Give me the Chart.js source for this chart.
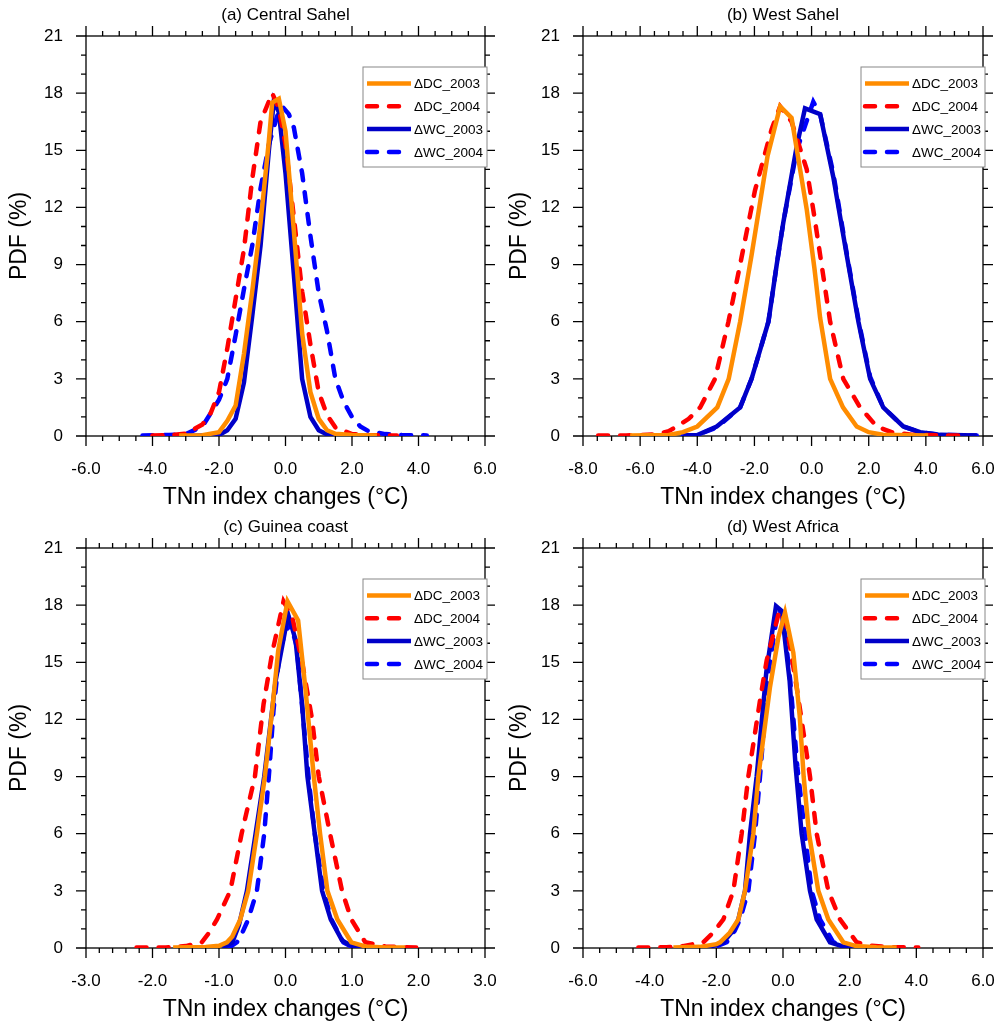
<!DOCTYPE html>
<html>
<head>
<meta charset="utf-8">
<script src="https://cdn.jsdelivr.net/npm/chart.js@4.4.1/dist/chart.umd.min.js"></script>
<style>
  html, body { margin: 0; padding: 0; background: #fff; }
  #wrap { position: relative; width: 1005px; height: 1032px; }
  canvas { position: absolute; }
</style>
</head>
<body>
<div id="wrap">
  <canvas id="pa" width="500" height="512" style="left:0;top:0"></canvas>
  <canvas id="pb" width="505" height="512" style="left:500px;top:0"></canvas>
  <canvas id="pc" width="500" height="520" style="left:0;top:512px"></canvas>
  <canvas id="pd" width="505" height="520" style="left:500px;top:512px"></canvas>
</div>
<script>
// labels
const panelTitles = ['(a) Central Sahel', '(b) West Sahel', '(c) Guinea coast', '(d) West Africa'];
const seriesLabels = ['\u0394DC_2003', '\u0394DC_2004', '\u0394WC_2003', '\u0394WC_2004'];
const xTitle = 'TNn index changes (\u00B0C)';
const yTitle = 'PDF (%)';

// axis ranges [min, max, major step, minor step]
const xAxisA = [-6, 6, 2, 0.5];
const xAxisB = [-8, 6, 2, 0.5];
const xAxisC = [-3, 3, 1, 0.2];
const xAxisD = [-6, 6, 2, 0.5];
const yAxis = [0, 21, 3, 1];

// (a) Central Sahel
const aDc03X = [-3.2, -2.5, -2.0, -1.75, -1.5, -1.25, -1.0, -0.75, -0.5, -0.4, -0.2, 0.0, 0.25, 0.5, 0.75, 1.0, 1.25, 1.5, 2.0, 2.75];
const aDc03Y = [0.02, 0.04, 0.2, 0.8, 1.6, 4.3, 7.6, 11.2, 15.5, 17.5, 17.7, 16.0, 10.8, 5.4, 2.3, 0.9, 0.3, 0.12, 0.05, 0.02];
const aDc04X = [-4.0, -3.5, -3.0, -2.5, -2.25, -2.0, -1.75, -1.5, -1.25, -1.0, -0.75, -0.4, -0.2, 0.0, 0.25, 0.5, 0.75, 1.0, 1.25, 1.5, 2.0, 2.5, 3.35];
const aDc04Y = [0.02, 0.05, 0.12, 0.6, 1.2, 2.3, 4.6, 7.2, 9.8, 13.5, 16.5, 18.0, 17.2, 15.3, 11.5, 7.6, 4.8, 2.3, 1.1, 0.45, 0.1, 0.05, 0.02];
const aWc03X = [-3.0, -2.0, -1.75, -1.5, -1.25, -1.0, -0.75, -0.5, -0.35, -0.2, 0.0, 0.25, 0.5, 0.75, 1.0, 1.25, 1.5, 2.0];
const aWc03Y = [0.0, 0.05, 0.3, 0.9, 2.8, 6.3, 10.0, 15.0, 17.6, 17.0, 13.8, 8.5, 3.0, 1.0, 0.3, 0.08, 0.02, 0.0];
const aWc04X = [-4.3, -3.5, -3.0, -2.5, -2.0, -1.75, -1.5, -1.25, -1.0, -0.75, -0.5, -0.25, -0.1, 0.1, 0.25, 0.5, 0.75, 1.0, 1.25, 1.5, 1.75, 2.0, 2.25, 2.5, 3.0, 3.5, 4.25];
const aWc04Y = [0.03, 0.05, 0.1, 0.5, 1.9, 3.0, 5.3, 7.7, 10.0, 13.0, 15.3, 16.8, 17.3, 16.9, 16.2, 13.8, 10.5, 7.5, 5.5, 3.0, 1.8, 1.0, 0.5, 0.25, 0.1, 0.05, 0.03];

// (b) West Sahel
const bDc03X = [-6.35, -5.0, -4.5, -4.0, -3.3, -2.9, -2.5, -2.1, -1.54, -1.1, -0.7, -0.17, 0.1, 0.3, 0.65, 1.1, 1.58, 2.0, 2.5, 4.08];
const bDc03Y = [0.02, 0.05, 0.2, 0.5, 1.5, 3.0, 6.0, 9.5, 14.7, 17.3, 16.7, 11.9, 8.8, 6.2, 3.0, 1.5, 0.5, 0.2, 0.07, 0.02];
const bDc04X = [-7.47, -6.5, -5.5, -5.0, -4.72, -4.3, -3.9, -3.38, -2.91, -2.5, -1.98, -1.4, -1.1, -0.7, -0.17, 0.1, 0.35, 0.65, 1.11, 1.7, 2.28, 2.8, 3.5, 4.5, 5.37];
const bDc04Y = [0.02, 0.03, 0.08, 0.25, 0.5, 0.9, 1.5, 3.0, 6.0, 9.0, 12.9, 16.1, 17.3, 16.5, 14.0, 11.5, 9.0, 6.0, 3.0, 1.5, 0.5, 0.2, 0.07, 0.03, 0.02];
const bWc03X = [-4.5, -4.0, -3.32, -2.5, -2.1, -1.51, -1.22, -0.99, -0.52, -0.23, 0.3, 0.76, 1.23, 1.64, 2.05, 2.51, 3.21, 3.8, 4.5, 5.78];
const bWc03Y = [0.02, 0.05, 0.5, 1.5, 3.0, 6.0, 9.0, 11.2, 15.2, 17.2, 16.9, 13.6, 9.5, 6.0, 3.0, 1.5, 0.5, 0.2, 0.06, 0.02];
const bWc04X = [-4.5, -4.0, -3.32, -2.5, -2.1, -1.51, -1.22, -0.99, -0.52, 0.06, 0.3, 0.76, 1.23, 1.64, 2.05, 2.51, 3.21, 3.8, 4.5, 5.78];
const bWc04Y = [0.02, 0.05, 0.45, 1.5, 3.0, 6.0, 9.0, 11.2, 15.0, 17.55, 16.9, 13.8, 9.6, 6.1, 3.1, 1.5, 0.5, 0.2, 0.06, 0.02];

// (c) Guinea coast
const cDc03X = [-1.69, -1.2, -1.0, -0.88, -0.8, -0.68, -0.56, -0.43, -0.31, -0.2, -0.11, 0.03, 0.19, 0.3, 0.42, 0.52, 0.63, 0.78, 0.99, 1.2, 1.5, 1.8];
const cDc03Y = [0.02, 0.05, 0.12, 0.3, 0.6, 1.5, 3.0, 6.0, 9.0, 12.5, 15.6, 18.2, 17.2, 13.6, 9.2, 6.0, 3.0, 1.5, 0.3, 0.08, 0.03, 0.02];
const cDc04X = [-2.24, -1.8, -1.5, -1.26, -1.15, -1.03, -0.83, -0.66, -0.46, -0.33, -0.2, -0.03, 0.1, 0.25, 0.4, 0.5, 0.67, 0.85, 0.99, 1.2, 1.5, 1.8, 2.07];
const cDc04Y = [0.02, 0.03, 0.1, 0.3, 0.8, 1.5, 3.0, 6.0, 9.0, 12.8, 15.5, 18.2, 17.4, 15.0, 12.0, 9.0, 6.0, 3.0, 1.5, 0.3, 0.08, 0.04, 0.02];
const cWc03X = [-0.95, -0.8, -0.7, -0.58, -0.45, -0.32, -0.15, 0.04, 0.15, 0.25, 0.33, 0.44, 0.55, 0.68, 0.85, 1.0, 1.2];
const cWc03Y = [0.02, 0.3, 1.2, 3.0, 6.0, 9.0, 14.0, 17.5, 16.2, 12.8, 9.0, 6.0, 3.0, 1.5, 0.4, 0.1, 0.02];
const cWc04X = [-0.85, -0.73, -0.65, -0.56, -0.43, -0.32, -0.24, -0.18, -0.08, 0.07, 0.17, 0.28, 0.36, 0.44, 0.57, 0.69, 0.87, 1.0];
const cWc04Y = [0.02, 0.3, 0.8, 1.5, 3.0, 6.0, 9.5, 12.5, 15.8, 17.1, 15.8, 11.5, 8.5, 6.0, 3.0, 1.5, 0.3, 0.05];

// (d) West Africa
const dDc03X = [-3.29, -2.5, -2.0, -1.89, -1.6, -1.34, -1.14, -0.89, -0.74, -0.39, -0.14, 0.06, 0.31, 0.5, 0.62, 0.78, 1.06, 1.36, 1.81, 2.2, 2.8, 3.41];
const dDc03Y = [0.02, 0.06, 0.2, 0.3, 0.8, 1.5, 3.0, 6.0, 9.0, 13.7, 16.3, 17.6, 15.5, 12.2, 9.0, 6.0, 3.0, 1.5, 0.3, 0.1, 0.04, 0.02];
const dDc04X = [-4.34, -3.5, -3.0, -2.39, -2.1, -1.79, -1.49, -1.24, -1.04, -0.69, -0.49, -0.11, 0.1, 0.41, 0.71, 0.81, 1.01, 1.36, 1.71, 2.21, 2.6, 3.2, 4.06];
const dDc04Y = [0.02, 0.04, 0.1, 0.3, 0.8, 1.5, 3.0, 6.0, 9.0, 13.0, 15.1, 17.7, 17.0, 13.7, 10.2, 9.0, 6.0, 3.0, 1.5, 0.3, 0.12, 0.05, 0.02];
const dWc03X = [-2.8, -2.2, -1.79, -1.5, -1.34, -1.14, -0.99, -0.79, -0.5, -0.21, -0.04, 0.2, 0.38, 0.56, 0.81, 1.01, 1.41, 1.8, 2.5];
const dWc03Y = [0.02, 0.05, 0.3, 0.9, 1.5, 3.0, 6.0, 9.0, 14.5, 17.95, 17.7, 14.0, 9.5, 6.0, 3.0, 1.5, 0.3, 0.08, 0.02];
const dWc04X = [-2.6, -2.0, -1.69, -1.45, -1.29, -1.04, -0.84, -0.69, -0.45, -0.15, 0.0, 0.22, 0.43, 0.66, 0.86, 1.11, 1.51, 1.9, 2.6];
const dWc04Y = [0.02, 0.08, 0.3, 0.9, 1.5, 3.0, 6.0, 9.0, 14.3, 17.8, 17.5, 14.0, 9.5, 6.0, 3.0, 1.5, 0.3, 0.08, 0.02];

const lineColors = ['#FF8C00', '#FF0000', '#0000C8', '#0000FF'];
const lineDashes = [[], [10, 12], [], [10, 12]];

const pts = (xs, ys) => xs.map((x, i) => ({ x: x, y: ys[i] }));

// frame, outward ticks on all four sides, and the legend box
const ncl = {
  id: 'ncl',
  beforeDatasetsDraw(chart) {
    const { ctx, chartArea: a } = chart;
    const xs = chart.scales.x, ys = chart.scales.y;
    const ax = chart.options.plugins.ncl.xAxis;
    ctx.save();
    ctx.strokeStyle = '#000';
    ctx.lineWidth = 1.3;
    ctx.strokeRect(a.left, a.top, a.right - a.left, a.bottom - a.top);
    ctx.beginPath();
    const nx = Math.round((ax[1] - ax[0]) / ax[3]);
    for (let i = 0; i <= nx; i++) {
      const v = ax[0] + i * ax[3];
      const r = v / ax[2];
      const len = Math.abs(r - Math.round(r)) < 1e-6 ? 10 : 5;
      const p = xs.getPixelForValue(v);
      ctx.moveTo(p, a.bottom); ctx.lineTo(p, a.bottom + len);
      ctx.moveTo(p, a.top); ctx.lineTo(p, a.top - len);
    }
    const ny = Math.round((yAxis[1] - yAxis[0]) / yAxis[3]);
    for (let i = 0; i <= ny; i++) {
      const v = yAxis[0] + i * yAxis[3];
      const len = v % yAxis[2] === 0 ? 10 : 5;
      const p = ys.getPixelForValue(v);
      ctx.moveTo(a.left, p); ctx.lineTo(a.left - len, p);
      ctx.moveTo(a.right, p); ctx.lineTo(a.right + len, p);
    }
    ctx.stroke();
    ctx.restore();
  },
  afterDraw(chart) {
    const { ctx, chartArea: a } = chart;
    ctx.save();
    ctx.fillStyle = '#fff';
    ctx.fillRect(a.right - 122, a.top + 31, 124, 100);
    ctx.strokeStyle = '#888';
    ctx.lineWidth = 1;
    ctx.strokeRect(a.right - 122, a.top + 31, 124, 100);
    ctx.font = '13.5px "Liberation Sans", Arial, sans-serif';
    ctx.textBaseline = 'middle';
    ctx.textAlign = 'left';
    chart.data.datasets.forEach((ds, i) => {
      const yy = a.top + 47.5 + i * 22.8;
      ctx.strokeStyle = ds.borderColor;
      ctx.lineWidth = ds.borderWidth;
      ctx.lineCap = ds.borderCapStyle;
      ctx.setLineDash(ds.borderDash);
      ctx.beginPath();
      ctx.moveTo(a.right - 118, yy);
      ctx.lineTo(a.right - 74, yy);
      ctx.stroke();
      ctx.setLineDash([]);
      ctx.fillStyle = '#000';
      ctx.fillText(ds.label, a.right - 71, yy + 1);
    });
    ctx.restore();
  }
};

function plotLeft(id) {
  return (id === 'pa' || id === 'pc') ? 86 : 83;
}

function makePanel(id, title, xAxis, series, plotRight) {
  const cv = document.getElementById(id);
  const W = cv.width, H = cv.height;
  const font = '"Liberation Sans", Arial, Helvetica, sans-serif';
  new Chart(cv, {
    type: 'line',
    data: {
      datasets: series.map((s, i) => ({
        label: seriesLabels[i],
        data: pts(s[0], s[1]),
        borderColor: lineColors[i],
        backgroundColor: lineColors[i],
        borderWidth: 4.5,
        borderDash: lineDashes[i],
        borderCapStyle: lineDashes[i].length ? 'round' : 'butt',
        borderJoinStyle: 'miter',
        pointRadius: 0,
        fill: false,
        tension: 0
      }))
    },
    options: {
      responsive: false,
      animation: false,
      events: [],
      layout: { padding: { left: 0, right: W - plotRight, top: 0, bottom: H - 436 - 76 } },
      plugins: {
        legend: { display: false },
        tooltip: { enabled: false },
        title: {
          display: true,
          text: title,
          fullSize: false,
          color: '#000',
          font: { family: font, size: 17, weight: 'normal', lineHeight: 1.2 },
          padding: { top: 5, bottom: 10.6 }
        },
        ncl: { xAxis: xAxis }
      },
      scales: {
        x: {
          type: 'linear',
          min: xAxis[0],
          max: xAxis[1],
          afterFit: (s) => { s.height = 76; s.paddingLeft = 0; s.paddingRight = 0; },
          grid: { display: false, drawTicks: false },
          border: { display: false },
          ticks: {
            stepSize: xAxis[2],
            padding: 23,
            color: '#000',
            maxRotation: 0,
            font: { family: font, size: 17 },
            callback: (v) => Number(v).toFixed(1)
          },
          title: {
            display: true,
            text: xTitle,
            color: '#000',
            font: { family: font, size: 23 },
            padding: { top: 0, bottom: 1 }
          }
        },
        y: {
          type: 'linear',
          min: yAxis[0],
          max: yAxis[1],
          afterFit: (s) => { s.width = plotLeft(id); s.paddingTop = 0; s.paddingBottom = 0; },
          grid: { display: false, drawTicks: false },
          border: { display: false },
          ticks: {
            stepSize: yAxis[2],
            padding: 23,
            color: '#000',
            font: { family: font, size: 17 }
          },
          title: {
            display: true,
            text: yTitle,
            color: '#000',
            font: { family: font, size: 23 },
            padding: { top: 6, bottom: 0 }
          }
        }
      }
    },
    plugins: [ncl]
  });
}

makePanel('pa', panelTitles[0], xAxisA,
  [[aDc03X, aDc03Y], [aDc04X, aDc04Y], [aWc03X, aWc03Y], [aWc04X, aWc04Y]], 485);
makePanel('pb', panelTitles[1], xAxisB,
  [[bDc03X, bDc03Y], [bDc04X, bDc04Y], [bWc03X, bWc03Y], [bWc04X, bWc04Y]], 483);
makePanel('pc', panelTitles[2], xAxisC,
  [[cDc03X, cDc03Y], [cDc04X, cDc04Y], [cWc03X, cWc03Y], [cWc04X, cWc04Y]], 485);
makePanel('pd', panelTitles[3], xAxisD,
  [[dDc03X, dDc03Y], [dDc04X, dDc04Y], [dWc03X, dWc03Y], [dWc04X, dWc04Y]], 483);
</script>
</body>
</html>
